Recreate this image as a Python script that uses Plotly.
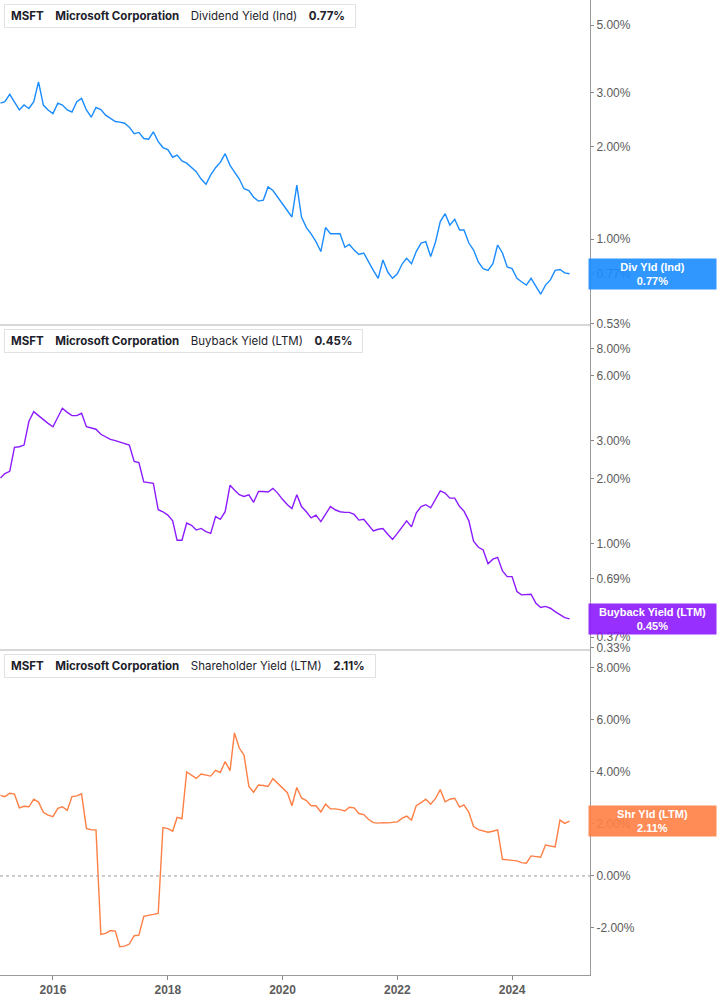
import numpy as np
import pandas as pd
import plotly.graph_objects as go

# monthly readings, Feb 2015 .. Jan 2025 (values in %)
months = pd.date_range("2015-02-01", periods=120, freq="MS")

div_yield = [
    2.78, 2.81, 2.97, 2.81, 2.64, 2.74, 2.67, 2.81, 3.26, 2.74,
    2.64, 2.57, 2.78, 2.74, 2.64, 2.60, 2.81, 2.88, 2.64, 2.50,
    2.69, 2.65, 2.54, 2.48, 2.42, 2.41, 2.39, 2.32, 2.21, 2.23,
    2.13, 2.12, 2.24, 2.08, 1.99, 1.96, 1.85, 1.88, 1.80, 1.77,
    1.71, 1.66, 1.57, 1.51, 1.62, 1.71, 1.78, 1.90, 1.74, 1.66,
    1.57, 1.46, 1.44, 1.37, 1.33, 1.34, 1.48, 1.44, 1.37, 1.31,
    1.24, 1.18, 1.50, 1.18, 1.09, 1.04, 0.98, 0.91, 1.09, 1.04,
    1.04, 1.04, 0.94, 0.96, 0.92, 0.89, 0.90, 0.84, 0.79, 0.744,
    0.854, 0.78, 0.744, 0.77, 0.83, 0.865, 0.83, 0.91, 0.97, 0.98,
    0.876, 0.98, 1.14, 1.21, 1.11, 1.16, 1.07, 1.07, 0.97, 0.92,
    0.84, 0.80, 0.79, 0.83, 0.956, 0.90, 0.81, 0.80, 0.744, 0.725,
    0.707, 0.744, 0.70, 0.66, 0.707, 0.735, 0.79, 0.795, 0.775, 0.77,
]

buyback_yield = [
    2.02, 2.12, 2.17, 2.80, 2.82, 2.87, 3.70, 4.10, 3.93, 3.75,
    3.62, 3.49, 3.89, 4.25, 4.07, 3.93, 3.93, 4.03, 3.49, 3.43,
    3.40, 3.22, 3.14, 3.05, 3.01, 2.96, 2.92, 2.87, 2.41, 2.38,
    1.94, 1.92, 1.91, 1.44, 1.41, 1.36, 1.28, 1.04, 1.04, 1.25,
    1.22, 1.16, 1.18, 1.14, 1.12, 1.34, 1.30, 1.41, 1.87, 1.78,
    1.69, 1.66, 1.69, 1.56, 1.75, 1.75, 1.74, 1.81, 1.72, 1.61,
    1.52, 1.46, 1.69, 1.49, 1.41, 1.32, 1.36, 1.27, 1.37, 1.49,
    1.44, 1.41, 1.40, 1.40, 1.37, 1.29, 1.30, 1.22, 1.15, 1.17,
    1.18, 1.11, 1.05, 1.12, 1.20, 1.28, 1.20, 1.39, 1.49, 1.52,
    1.47, 1.62, 1.76, 1.72, 1.63, 1.63, 1.49, 1.42, 1.28, 1.03,
    0.965, 0.938, 0.81, 0.85, 0.867, 0.75, 0.706, 0.706, 0.602, 0.581,
    0.585, 0.585, 0.531, 0.508, 0.514, 0.504, 0.486, 0.469, 0.456, 0.45,
]

shr_yield = [
    3.10, 3.05, 3.18, 3.15, 2.62, 2.68, 2.66, 2.95, 2.84, 2.45,
    2.34, 2.28, 2.60, 2.66, 2.52, 3.05, 3.08, 3.16, 1.83, 1.77,
    1.77, -2.25, -2.21, -2.10, -2.12, -2.72, -2.70, -2.62, -2.30, -2.28,
    -1.55, -1.50, -1.48, -1.44, 1.86, 1.82, 1.72, 2.25, 2.20, 4.00,
    3.88, 3.75, 3.92, 3.88, 3.84, 4.06, 3.98, 4.40, 4.05, 5.50,
    4.92, 4.65, 3.44, 3.22, 3.50, 3.48, 3.44, 3.74, 3.56, 3.38,
    3.20, 2.70, 3.40, 3.00, 2.90, 2.70, 2.70, 2.46, 2.76, 2.58,
    2.58, 2.55, 2.50, 2.64, 2.62, 2.40, 2.36, 2.18, 2.05, 2.03,
    2.05, 2.04, 2.06, 2.08, 2.22, 2.30, 2.15, 2.70, 2.82, 2.95,
    2.76, 2.98, 3.32, 2.85, 2.95, 2.99, 2.65, 2.73, 2.45, 1.90,
    1.78, 1.74, 1.68, 1.72, 1.77, 0.64, 0.62, 0.60, 0.58, 0.51,
    0.49, 0.77, 0.74, 0.72, 1.19, 1.15, 1.12, 2.15, 2.02, 2.11,
]

div_ticks = [5, 3, 2, 1, 0.77, 0.53]
bb_ticks = [8, 6, 3, 2, 1, 0.69, 0.37, 0.33]
shr_ticks = [8, 6, 4, 2, 0, -2]
year_ticks = ["2016-01-01", "2018-01-01", "2020-01-01", "2022-01-01", "2024-01-01"]
year_labels = ["2016", "2018", "2020", "2022", "2024"]

series_names = ["Dividend Yield (Ind)", "Buyback Yield (LTM)", "Shareholder Yield (LTM)"]
tag_names = ["Div Yld (Ind)", "Buyback Yield (LTM)", "Shr Yld (LTM)"]

BLUE = "#1a8cff"
PURPLE = "#8c1aff"
ORANGE = "#ff7f45"
AXIS = "#9a9a9a"
W, H = 717, 1005
PLOT_R = 590 / W
panels = [(0, 325), (325, 650), (650, 975)]  # pixel top/bottom of each pane


def dom(top, bottom):
    return [1 - bottom / H, 1 - top / H]


def yaxis(top, bottom, ticks, **kw):
    d = dict(domain=dom(top, bottom), side="right", anchor="x", automargin=False,
             showline=True, linecolor=AXIS, linewidth=1,
             ticks="outside", ticklen=3, tickcolor="#888",
             tickvals=ticks, ticktext=[f"{t:.2f}%" for t in ticks],
             tickfont=dict(family="Arial, Liberation Sans", size=12, color="#5c5c5c"),
             showgrid=False, zeroline=False, fixedrange=True)
    d.update(kw)
    return d


fig = go.Figure()
series = [div_yield, buyback_yield, shr_yield]
colors = [BLUE, PURPLE, ORANGE]
refs = ["y", "y2", "y3"]
for vals, col, ref in zip(series, colors, refs):
    fig.add_trace(go.Scatter(x=months, y=vals, mode="lines", yaxis=ref, xaxis="x",
                             line=dict(color=col, width=1.4), hoverinfo="skip",
                             showlegend=False))

fig.update_layout(
    width=W, height=H,
    margin=dict(l=0, r=0, t=0, b=0, pad=0, autoexpand=False),
    paper_bgcolor="white", plot_bgcolor="white",
    xaxis=dict(domain=[0, PLOT_R], anchor="y3", type="date", automargin=False,
               range=["2015-01-29", "2025-05-11"],
               tickvals=year_ticks, ticktext=year_labels,
               tickfont=dict(family="Arial, Liberation Sans", size=12, color="#5c5c5c", weight="bold"),
               showline=True, linecolor=AXIS, linewidth=1,
               ticks="outside", ticklen=4, tickcolor="#888",
               showgrid=False, zeroline=False, fixedrange=True),
    yaxis=yaxis(*panels[0], div_ticks, type="log", range=[-0.281, 0.781]),
    yaxis2=yaxis(*panels[1], bb_ticks, type="log", range=[-0.491, 1.014]),
    yaxis3=yaxis(*panels[2], shr_ticks, range=[-3.81, 8.69]),
)

# pane separators and zero line
for ref in ["y2 domain", "y3 domain"]:
    fig.add_shape(type="line", xref="x domain", x0=0, x1=1, yref=ref, y0=1, y1=1,
                  line=dict(color="#b0b0b0", width=1))
fig.add_shape(type="line", xref="x domain", x0=0, x1=1, yref="y3", y0=0, y1=0,
              line=dict(color="#999", width=1, dash="dot"))

# legends and last-value tags
last_vals = [div_yield[-1], buyback_yield[-1], shr_yield[-1]]
tag_y = [np.log10(last_vals[0]), np.log10(last_vals[1]), last_vals[2]]
for i, (top, bottom) in enumerate(panels):
    sp = "\u2003"
    txt = (f"\u2009<b>MSFT</b>{sp}<b>Microsoft Corporation</b>{sp}"
           f"{series_names[i]}{sp}<b>{last_vals[i]:.2f}%</b>\u2002")
    fig.add_annotation(xref="paper", yref="paper", x=4 / W, y=1 - (top + 4) / H,
                       xanchor="left", yanchor="top", text=txt, showarrow=False,
                       font=dict(family="Inter", size=11.5, color="#1d1d2b"),
                       bgcolor="white", bordercolor="#e2e2e2", borderwidth=1, borderpad=4)
    fig.add_shape(type="rect", xref="paper", yref="paper",
                  x0=4 / W, x1=7 / W, y0=1 - (top + 6) / H, y1=1 - (top + 28) / H,
                  fillcolor=colors[i], line=dict(width=0))
    r, g, b = (int(colors[i][k:k + 2], 16) for k in (1, 3, 5))
    fig.add_annotation(xref="paper", yref=refs[i], x=1, y=tag_y[i],
                       xanchor="right", yanchor="middle", showarrow=False,
                       text=f"<b>{tag_names[i]}<br>{last_vals[i]:.2f}%</b>",
                       font=dict(family="Arial, Liberation Sans", size=11, color="white"),
                       bgcolor=f"rgba({r},{g},{b},0.9)", width=125, height=28,
                       borderpad=1, align="center")

fig.write_html("out.html", config={"displayModeBar": False},
               post_script="document.body.style.margin='0px';")
